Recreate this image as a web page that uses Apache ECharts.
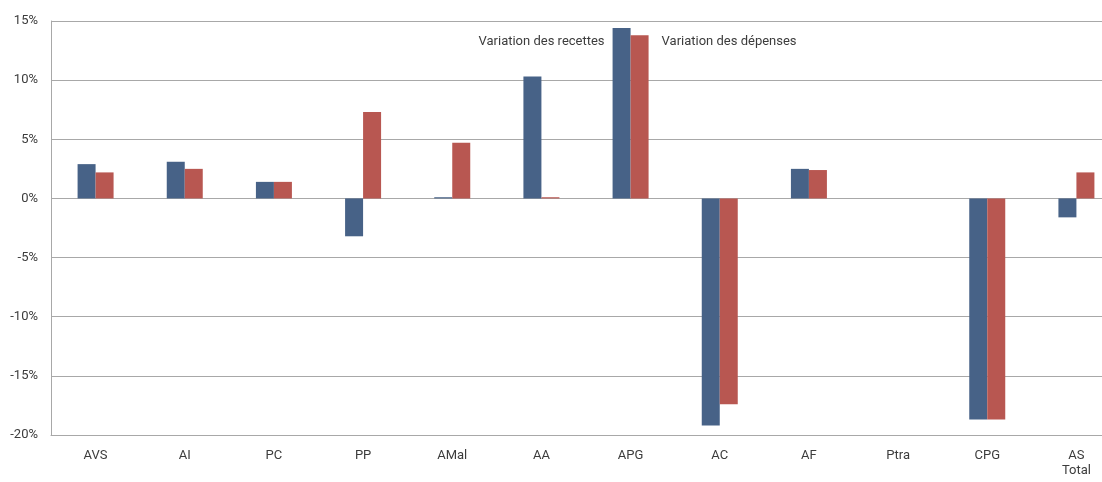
<!DOCTYPE html>
<html>
<head>
<meta charset="utf-8">
<script src="https://cdn.jsdelivr.net/npm/echarts@6/dist/echarts.min.js"></script>
<style>
  html, body { margin: 0; padding: 0; background: #fff; }
  #chart { width: 1102px; height: 482px; }
</style>
</head>
<body>
<div id="chart"></div>
<script>
// catégories et valeurs (variation en %)
var categories = ['AVS', 'AI', 'PC', 'PP', 'AMal', 'AA', 'APG', 'AC', 'AF', 'Ptra', 'CPG', 'AS\nTotal'];
var recettes = [2.9, 3.1, 1.4, -3.2, 0.1, 10.3, 14.4, -19.2, 2.5, 0, -18.7, -1.6];
var depenses = [2.2, 2.5, 1.4, 7.3, 4.7, 0.1, 13.8, -17.4, 2.4, 0, -18.7, 2.2];
var seriesNames = ['Variation des recettes', 'Variation des dépenses'];
var labelIndex = 6; // APG

var txt = '#3c3c3c';
var font = 'Roboto';

function withLabel(values, name, pos, align) {
	return values.map(function (v, i) {
		if (i != labelIndex) return v;
		return {
			value: v,
			label: {
				show: true,
				formatter: name,
				position: pos,
				align: align,
				verticalAlign: 'middle',
				color: txt,
				fontFamily: font,
				fontSize: 13
			}
		};
	});
}

var myChart = echarts.init(document.getElementById('chart'));
myChart.setOption({
	animation: false,
	grid: { left: 51, right: -19, top: 21, bottom: 47, outerBoundsMode: 'none', containLabel: false },
	xAxis: {
		type: 'category',
		data: categories,
		axisLine: { onZero: false, lineStyle: { color: '#a8a8a8', width: 1 } },
		axisTick: { alignWithLabel: true, length: 10, lineStyle: { color: '#a0a0a0' } },
		axisLabel: { color: txt, fontFamily: font, fontSize: 13, margin: 13, lineHeight: 15, interval: 0 }
	},
	yAxis: {
		type: 'value',
		min: -20,
		max: 15,
		interval: 5,
		axisLine: { show: true, lineStyle: { color: '#a8a8a8', width: 1 } },
		axisTick: { show: false },
		axisLabel: { formatter: '{value}%', color: txt, fontFamily: font, fontSize: 13, margin: 13 },
		splitLine: { lineStyle: { color: '#a8a8a8', width: 1 } }
	},
	series: [
		{
			name: seriesNames[0],
			type: 'bar',
			barWidth: 18,
			barGap: '0%',
			itemStyle: { color: '#476287' },
			data: withLabel(recettes, seriesNames[0], [-8, 14], 'right')
		},
		{
			name: seriesNames[1],
			type: 'bar',
			barWidth: 18,
			barGap: '0%',
			itemStyle: { color: '#b85751' },
			data: withLabel(depenses, seriesNames[1], [31, 7], 'left')
		}
	]
});
</script>
</body>
</html>
